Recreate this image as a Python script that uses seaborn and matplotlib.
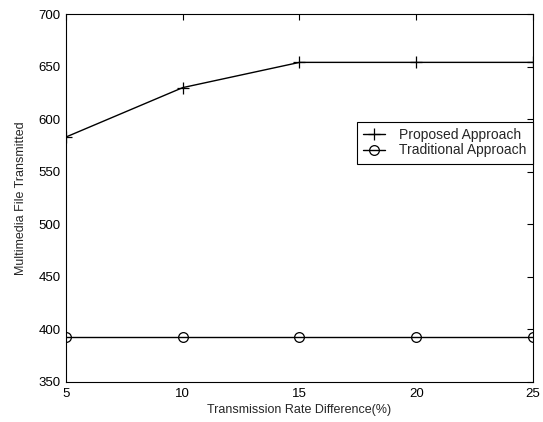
import numpy as np
import pandas as pd
import seaborn as sns
import matplotlib.pyplot as plt

# values
rate_diff = [5, 10, 15, 20, 25]
proposed = [583, 630, 654, 654, 654]
traditional = [393, 393, 393, 393, 393]

sns.set_style('white')
plt.rcParams['font.family'] = ['Liberation Sans', 'DejaVu Sans']
plt.rcParams['font.size'] = 9

fig = plt.figure(figsize=(5.43, 4.22), dpi=100)
ax = fig.add_axes([0.1215, 0.0948, 0.9816 - 0.1215, 0.9668 - 0.0948])

# one call per series: seaborn won't mix '+' and 'o' in a single style map
sns.lineplot(x=rate_diff, y=proposed, marker='+', color='black', linewidth=1,
             markersize=9, markeredgecolor='black', markeredgewidth=0.9,
             label='Proposed Approach', ax=ax)
sns.lineplot(x=rate_diff, y=traditional, marker='o', color='black', linewidth=1,
             markersize=7, markerfacecolor='none', markeredgecolor='black',
             markeredgewidth=0.9, label='Traditional Approach', ax=ax)

ax.set_xlim(5, 25)
ax.set_ylim(350, 700)
ax.set_xticks(rate_diff)
ax.set_yticks(np.arange(350, 701, 50))
ax.tick_params(direction='in', length=4, top=True, right=True, labelsize=9.5,
               colors='black', width=0.8, pad=4)
for s in ax.spines.values():
    s.set_color('black')
    s.set_linewidth(0.8)

ax.set_xlabel('Transmission Rate Difference(%)', fontsize=9, labelpad=3)
ax.set_ylabel('Multimedia File Transmitted', fontsize=9, labelpad=8)

leg = ax.legend(loc='upper right', bbox_to_anchor=(1.0, 0.707), borderaxespad=0,
                fancybox=False, framealpha=1, edgecolor='black', fontsize=10,
                handlelength=1.6, borderpad=0.45, labelspacing=0.1, handletextpad=1.0)
leg.get_frame().set_linewidth(0.8)

plt.savefig('out.png', dpi=100)
